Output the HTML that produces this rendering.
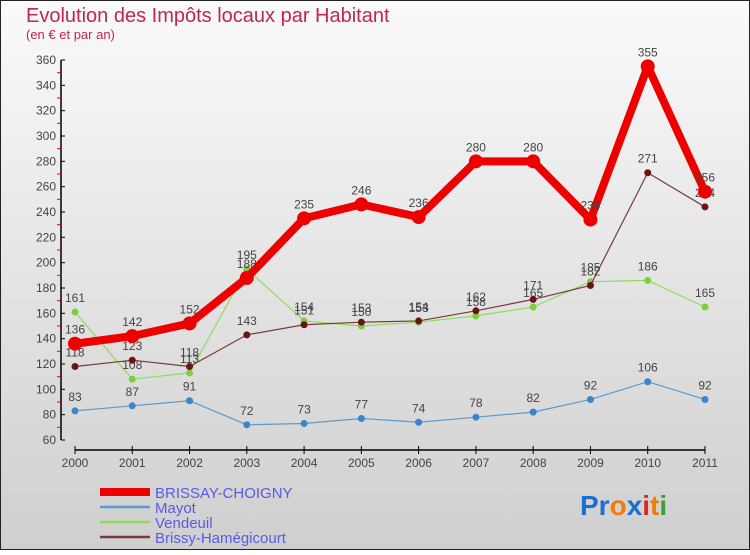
<!DOCTYPE html>
<html><head><meta charset="utf-8"><style>
body{margin:0;width:750px;height:550px;overflow:hidden;font-family:"Liberation Sans",sans-serif}
</style></head><body>
<svg width="750" height="550" xmlns="http://www.w3.org/2000/svg">
<defs><linearGradient id="bg" x1="0" y1="0" x2="0" y2="1"><stop offset="0" stop-color="#fafafa"/><stop offset="1" stop-color="#cfcfcf"/></linearGradient></defs>
<rect x="0.5" y="0.5" width="749" height="549" fill="url(#bg)" stroke="#222"/>
<text x="26" y="22" font-size="20" fill="#c0245a">Evolution des Impôts locaux par Habitant</text>
<text x="26" y="39" font-size="13" fill="#c0245a">(en € et par an)</text>
<g id="axes"></g>
<g id="series"></g>
<g id="legend"></g>
<text x="580" y="515" font-size="28" font-weight="bold"><tspan fill="#1a6fcf">Pr</tspan><tspan fill="#f07d0a">o</tspan><tspan fill="#1a6fcf">x</tspan><tspan fill="#e0281e">i</tspan><tspan fill="#f07d0a">t</tspan><tspan fill="#3aa13a">i</tspan></text>
</svg>
<script>
const years=[2000,2001,2002,2003,2004,2005,2006,2007,2008,2009,2010,2011];
const yTicks=[60,80,100,120,140,160,180,200,220,240,260,280,300,320,340,360];
const brissayChoigny=[136,142,152,188,235,246,236,280,280,234,355,256];
const mayot=[83,87,91,72,73,77,74,78,82,92,106,92];
const vendeuil=[161,108,113,195,154,150,153,158,165,185,186,165];
const brissyHamegicourt=[118,123,118,143,151,153,154,162,171,182,271,244];
const NS="http://www.w3.org/2000/svg";
function X(i){return 75+i*(630/11);}
function Y(v){return 440-(v-60)*(380/300);}
function el(tag,attrs,parent){const e=document.createElementNS(NS,tag);for(const k in attrs)e.setAttribute(k,attrs[k]);parent.appendChild(e);return e;}
const axes=document.getElementById('axes');
const yAxis=el('line',{x1:61,y1:Y(360),x2:61,y2:440,stroke:'#000','stroke-width':1.5},axes);


yTicks.forEach(v=>{
 el('line',{x1:61,y1:Y(v),x2:65,y2:Y(v),stroke:'#000'},axes);
 el('line',{x1:57,y1:Y(v+10),x2:61,y2:Y(v+10),stroke:v<360?'#e00':'none'},axes);
 const t=el('text',{x:56,y:Y(v)+4,'font-size':12,fill:'#444','text-anchor':'end'},axes);
 t.textContent=v;
 
 
});
const xAxis=el('line',{x1:X(0),y1:450,x2:X(11),y2:450,stroke:'#000','stroke-width':1.5},axes);


years.forEach((y,i)=>{
 el('line',{x1:X(i),y1:446,x2:X(i),y2:454,stroke:'#000'},axes);
 const t=el('text',{x:X(i),y:467,'font-size':12,fill:'#444','text-anchor':'middle'},axes);
 t.textContent=y;
 
 
});
const series=[
 {name:'Mayot',data:mayot,color:'#5b9bd0',w:1.2,r:3.5,fill:'#3a86c8'},
 {name:'Vendeuil',data:vendeuil,color:'#8fdc5a',w:1.2,r:3.5,fill:'#7ccf3a'},
 {name:'Brissy-Hamégicourt',data:brissyHamegicourt,color:'#7a3a3a',w:1.2,r:3.5,fill:'#6a1414'},
 {name:'BRISSAY-CHOIGNY',data:brissayChoigny,color:'#ee0000',w:8,r:7,fill:'#ee0000'}
];
const sg=document.getElementById('series');
series.forEach(s=>{
 const g=el('g',{},sg);
 
 
 const pl=el('polyline',{points:s.data.map((v,i)=>X(i)+','+Y(v)).join(' '),fill:'none',stroke:s.color,'stroke-width':s.w,'stroke-linejoin':'round'},g);
 
 
 s.data.forEach((v,i)=>{
  const c=el('circle',{cx:X(i),cy:Y(v),r:s.r,fill:s.fill},g);
  
  
  const t=el('text',{x:X(i),y:Y(v)-10,'font-size':12,fill:'#444','text-anchor':'middle'},g);
  t.textContent=v;
  
  
 });
});
const lg=document.getElementById('legend');
[series[3],series[0],series[1],series[2]].forEach((s,i)=>{
 const y=492+i*15;
 const l=el('line',{x1:100,y1:y,x2:150,y2:y,stroke:s.color,'stroke-width':i==0?8:2.5},lg);
 
 
 const t=el('text',{x:155,y:y+6,'font-size':15,fill:'#5a5ae8'},lg);
 t.textContent=s.name;
 
 
});
</script>
</body></html>
